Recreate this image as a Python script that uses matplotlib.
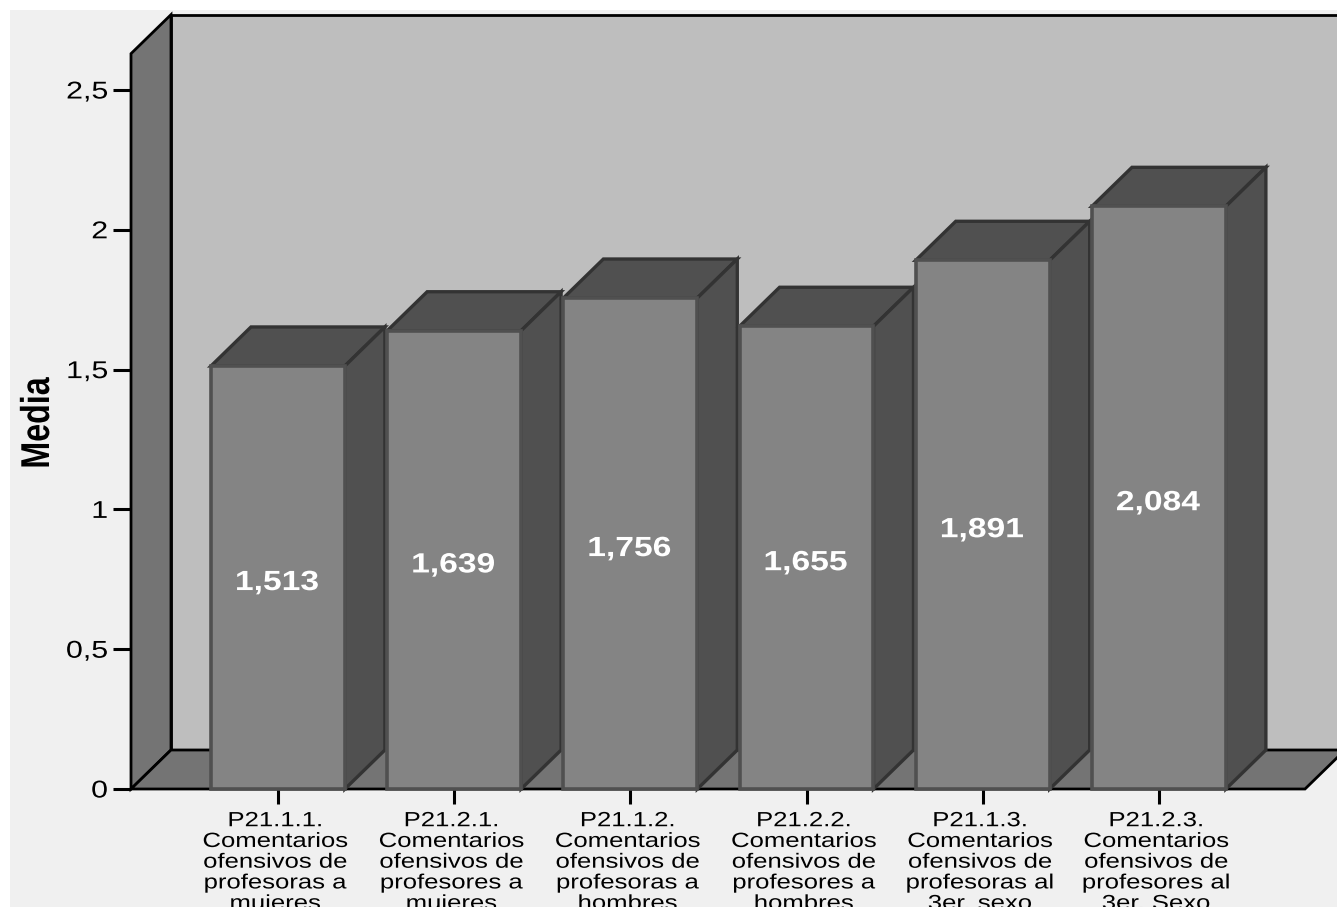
import matplotlib
matplotlib.use('Agg')
import matplotlib.pyplot as plt
from matplotlib.patches import Polygon, Rectangle
from matplotlib.patheffects import AbstractPathEffect
from matplotlib.transforms import Affine2D, Bbox, TransformedBbox

# --- data ---
categories = [
    'P21.1.1.\nComentarios\nofensivos de\nprofesoras a\nmujeres',
    'P21.2.1.\nComentarios\nofensivos de\nprofesores a\nmujeres',
    'P21.1.2.\nComentarios\nofensivos de\nprofesoras a\nhombres',
    'P21.2.2.\nComentarios\nofensivos de\nprofesores a\nhombres',
    'P21.1.3.\nComentarios\nofensivos de\nprofesoras al\n3er. sexo',
    'P21.2.3.\nComentarios\nofensivos de\nprofesores al\n3er. Sexo',
]
means = [1.513, 1.639, 1.756, 1.655, 1.891, 2.084]
value_labels = ['1,513', '1,639', '1,756', '1,655', '1,891', '2,084']
y_ticks = [0, 0.5, 1, 1.5, 2, 2.5]
y_tick_labels = ['0', '0,5', '1', '1,5', '2', '2,5']

W, H = 1337, 909
PAGE = '#f0f0f0'
WALL = '#747474'
BACK = '#bebebe'
FRONT = '#848484'
SHADE = '#505050'
EDGE = '#333333'
FONT = 'Liberation Sans'

# 3D look: the depth offset of the box, in data units
DX = 0.227
DY = 0.1395
HALF = 0.38
X0, X1 = -0.834, 5.829
Y_TOP = 2.63


class Stretch(AbstractPathEffect):
    """Scale text about a fixed display point (the font has no wide cut)."""

    def __init__(self, cx, cy, sx=1.0, sy=1.0, shift=(0, 0)):
        super().__init__()
        self.t = (Affine2D().translate(-cx, -cy).scale(sx, sy).translate(cx, cy)
                  .translate(*shift))

    def draw_path(self, renderer, gc, tpath, affine, rgbFace=None):
        renderer.draw_path(gc, tpath, affine + self.t, rgbFace)


fig = plt.figure(figsize=(W / 100, H / 100), dpi=100, facecolor='white')
fig.add_artist(Rectangle((10 / W, 2 / H), 1 - 10 / W, 897 / H, transform=fig.transFigure,
                         facecolor=PAGE, edgecolor='none', zorder=-5))

ax = fig.add_axes([131 / W, (H - 789) / H, 1174 / W, 699 / H])
ax.patch.set_visible(False)
for s in ax.spines.values():
    s.set_visible(False)
ax.set_xlim(X0, X1)
ax.set_ylim(0, 2.5)


def poly(pts, fc, ec, lw=2.0, z=1):
    ax.add_patch(Polygon(pts, closed=True, facecolor=fc, edgecolor=ec, linewidth=lw,
                         joinstyle='miter', clip_on=False, zorder=z))


def px_x(i):
    return ax.transData.transform((i, 0))[0]


# back wall, side wall and floor
poly([(X0 + DX, DY), (X1 + 2 * DX, DY), (X1 + 2 * DX, Y_TOP + DY), (X0 + DX, Y_TOP + DY)], BACK, 'black')
poly([(X0, 0), (X0 + DX, DY), (X0 + DX, Y_TOP + DY), (X0, Y_TOP)], WALL, 'black')
poly([(X0, 0), (X1, 0), (X1 + DX, DY), (X0 + DX, DY)], WALL, 'black')

# the bars, left to right so each one sits over its neighbour's side
for i, v in enumerate(means):
    l, r = i - HALF, i + HALF
    poly([(l, v), (r, v), (r + DX, v + DY), (l + DX, v + DY)], SHADE, EDGE, lw=2.4, z=3)
    poly([(r, 0), (r + DX, DY), (r + DX, v + DY), (r, v)], SHADE, EDGE, lw=2.4, z=3)
    poly([(l, 0), (r, 0), (r, v), (l, v)], FRONT, SHADE, lw=2.6, z=4)
    ax.annotate(value_labels[i], (i, v / 2), xytext=(-0.7, -4), textcoords='offset points',
                color='white', fontsize=20, fontweight='bold', family=FONT,
                ha='center', va='center', zorder=5,
                path_effects=[Stretch(px_x(i) - 1, 0, sx=1.21)])

ax.set_yticks(y_ticks)
ax.set_yticklabels(y_tick_labels, fontsize=17.5, family=FONT)
ax.set_xticks(range(len(categories)))
ax.set_xticklabels(categories, fontsize=14.8, family=FONT, linespacing=1.116)
ax.tick_params(axis='y', length=13, width=2.2, pad=4.5, color='black')
ax.tick_params(axis='x', length=11, width=2.2, pad=5, color='black')

# the page ends just above the last text line
clip = TransformedBbox(Bbox([[0, 2 / H], [1, 1]]), fig.transFigure)
for i, lab in enumerate(ax.get_xticklabels()):
    lab.set_clip_box(clip)
    lab.set_clip_on(True)
    lab.set_path_effects([Stretch(px_x(i), 0, sx=1.25, shift=(-3, 0))])
for lab in ax.get_yticklabels():
    lab.set_path_effects([Stretch(107, 0, sx=1.25, shift=(1.5, 0))])

fig.text(38 / W, 1 - 423 / H, 'Media', rotation=90, ha='center', va='center', fontsize=29,
         fontweight='bold', family=FONT,
         path_effects=[Stretch(0, H - 423, sy=0.8)])

fig.savefig('out.png', dpi=100)
